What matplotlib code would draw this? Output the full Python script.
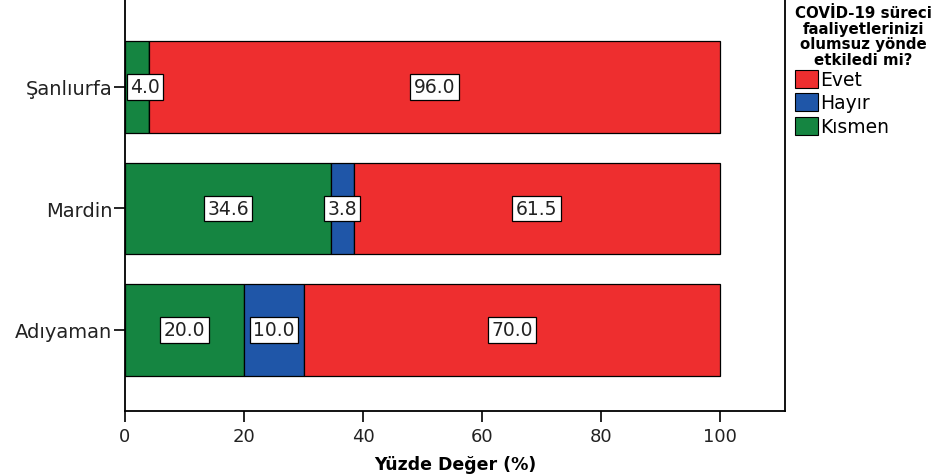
import matplotlib
matplotlib.use('Agg')
import matplotlib.pyplot as plt
from matplotlib.patches import Patch
import numpy as np

plt.rcParams['font.family'] = ['DejaVu Sans']

cities = ['Adıyaman', 'Mardin', 'Şanlıurfa']
kismen = [20.0, 34.6, 4.0]
hayir = [10.0, 3.8, 0.0]
evet = [70.0, 61.5, 96.0]

colors = {'Evet': '#ee2e2f', 'Hayır': '#1f56a8', 'Kısmen': '#158541'}

fig = plt.figure(figsize=(9.35, 4.77), dpi=100)
ax = fig.add_axes([125 / 935, 1 - 412 / 477, 660 / 935, 415 / 477])

y = np.arange(len(cities))
h = 0.75
left = np.zeros(len(cities))
for vals, name in [(kismen, 'Kısmen'), (hayir, 'Hayır'), (evet, 'Evet')]:
    vals = np.array(vals)
    ax.barh(y, vals, left=left, height=h, color=colors[name],
            edgecolor='black', linewidth=0.9, zorder=2)
    for yi, l, v in zip(y, left, vals):
        if v <= 0:
            continue
        xm = max(l + v / 2, 3.4)
        ax.text(xm, yi, f'{v:.1f}', ha='center', va='center', fontsize=13.5,
                color='#222222', zorder=4,
                bbox=dict(boxstyle='square,pad=0.18', facecolor='white',
                          edgecolor='black', linewidth=0.9))
    left = left + vals

ax.set_xlim(0, 110.9)
ax.set_ylim(-0.667, 2.749)
ax.set_yticks(y)
ax.set_yticklabels(cities, fontsize=14, color='#222222')
ax.set_xticks([0, 20, 40, 60, 80, 100])
ax.tick_params(axis='x', labelsize=13, labelcolor='#222222', length=8, width=1.2, direction='out')
ax.tick_params(axis='y', length=8, width=1.2, direction='out', pad=1)
ax.set_xlabel('Yüzde Değer (%)', fontsize=12.5, fontweight='bold', labelpad=7)
for s in ['left', 'bottom', 'right', 'top']:
    ax.spines[s].set_linewidth(1.3)

handles = [Patch(facecolor=colors[n], edgecolor='black', linewidth=0.8, label=n)
           for n in ['Evet', 'Hayır', 'Kısmen']]
leg = fig.legend(handles=handles, loc='upper left', bbox_to_anchor=(782 / 935, 1.015),
                 frameon=False, fontsize=13.5, title='COVİD-19 süreci\nfaaliyetlerinizi\nolumsuz yönde\netkiledi mi?',
                 title_fontproperties={'weight': 'bold', 'size': 10.8},
                 handlelength=1.2, handleheight=1.1, handletextpad=0.15,
                 labelspacing=0.22, borderpad=0.2)
leg._legend_box.align = 'left'
leg._legend_box.sep = 2
leg.get_title().set_multialignment('center')
leg.get_title().set_linespacing(1.05)

fig.savefig('out.png', dpi=100)
